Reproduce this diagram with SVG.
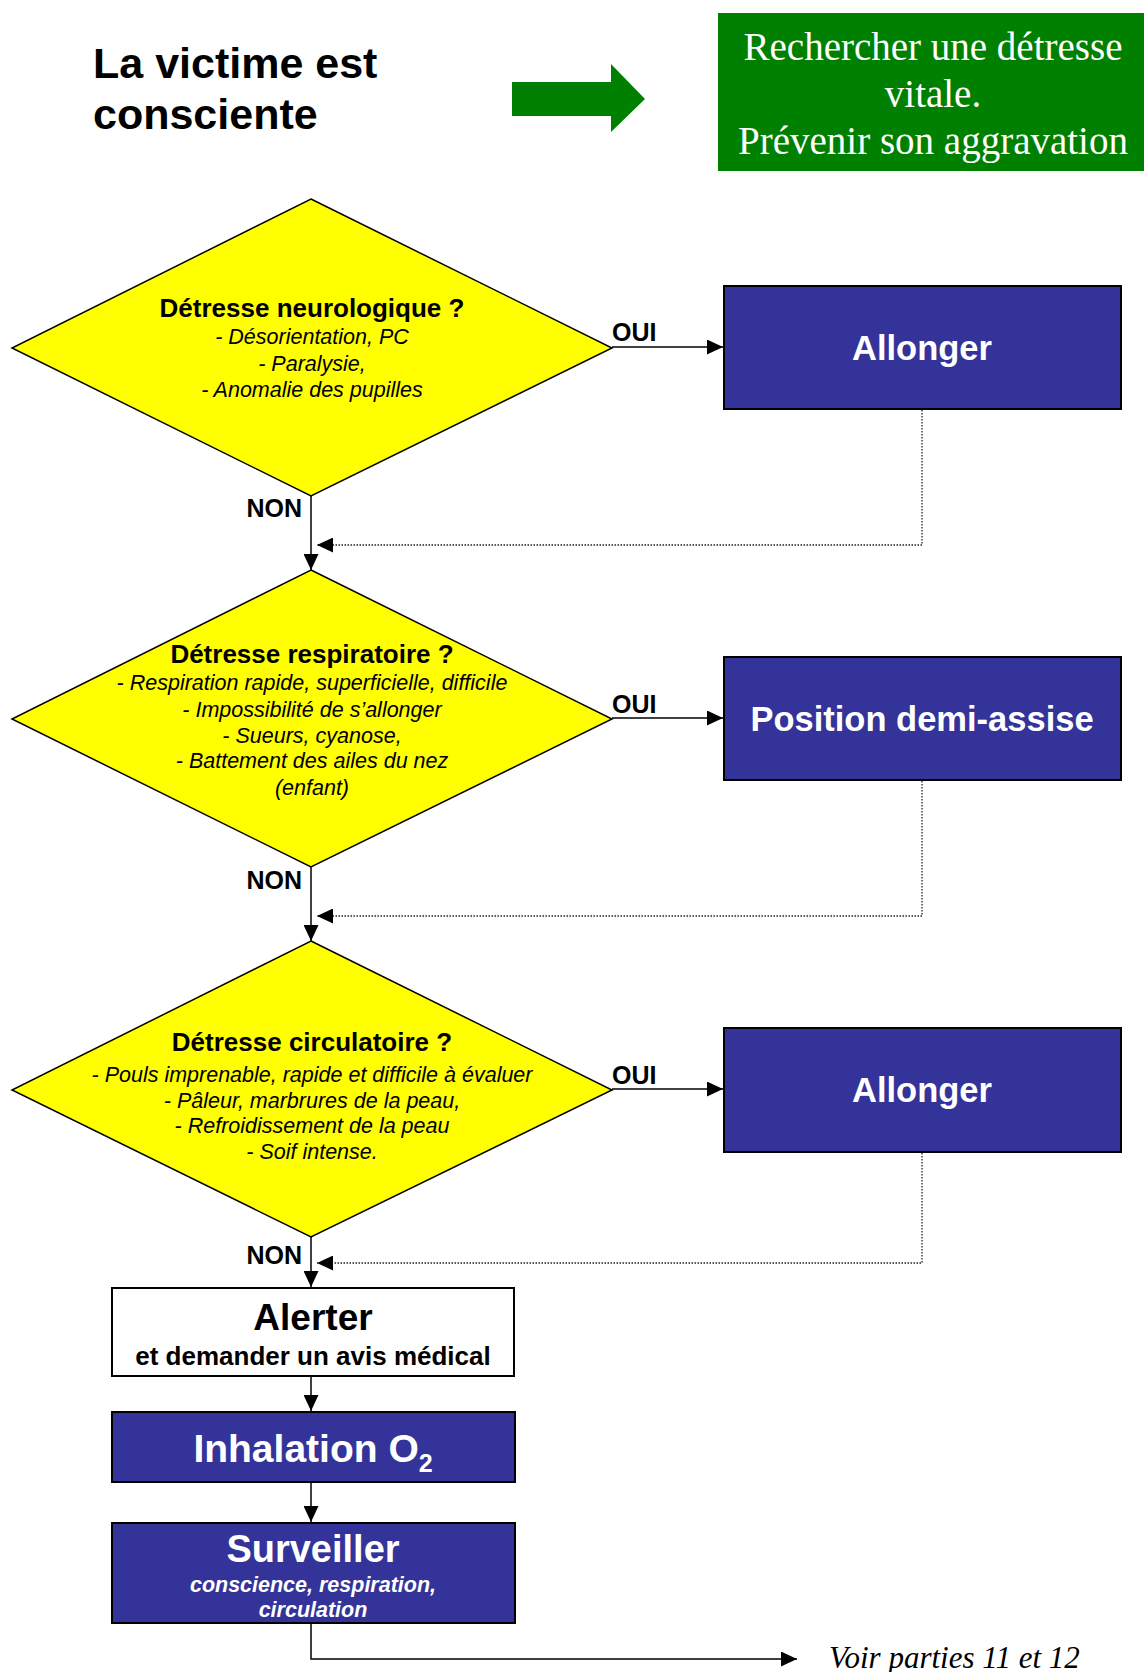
<svg xmlns="http://www.w3.org/2000/svg" width="1144" height="1672" viewBox="0 0 1144 1672">
<style>
.sans{font-family:"Liberation Sans",Arial,sans-serif}
.b{font-weight:bold}
.i{font-style:italic}
.dia{fill:#FFFF00;stroke:#000;stroke-width:1.5}
.blue{fill:#333399;stroke:#000;stroke-width:2}
.wt{fill:#fff}
.bk{fill:#000}
.line{stroke:#000;stroke-width:1.5;fill:none}
.dot{stroke:#222;stroke-width:1.3;fill:none;stroke-dasharray:1.5 1.5}
.dtitle{font-size:26px}
.dline{font-size:21.5px}
.lab{font-size:25px}
.serif{font-family:"Liberation Serif","Times New Roman",serif}
</style>
<defs>
<marker id="ah" viewBox="0 0 10 10" refX="10" refY="5" markerUnits="userSpaceOnUse" markerWidth="16" markerHeight="15" orient="auto" preserveAspectRatio="none">
<path d="M0,0 L10,5 L0,10 z" fill="#000"/>
</marker>
</defs>

<g id="title">
<text class="sans b bk" x="93" y="78" font-size="43">La victime est</text>
<text class="sans b bk" x="93" y="129" font-size="43">consciente</text>
</g>

<g id="green-arrow">
<polygon points="512,82 611,82 611,64 645,99 611,132 611,116 512,116" fill="#008000"/>
</g>

<g id="goal">
<rect x="718" y="13" width="426" height="158" fill="#008000"/>
<text class="serif" x="933" y="60" font-size="39" fill="#fff" text-anchor="middle">Rechercher une détresse</text>
<text class="serif" x="933" y="107" font-size="39" fill="#fff" text-anchor="middle">vitale.</text>
<text class="serif" x="933" y="154" font-size="39" fill="#fff" text-anchor="middle">Prévenir son aggravation</text>
</g>

<g id="connectors">
<line class="line" x1="612" y1="347" x2="723" y2="347" marker-end="url(#ah)"/>
<line class="line" x1="612" y1="718" x2="723" y2="718" marker-end="url(#ah)"/>
<line class="line" x1="612" y1="1089" x2="723" y2="1089" marker-end="url(#ah)"/>
<line class="line" x1="311" y1="496" x2="311" y2="570" marker-end="url(#ah)"/>
<line class="line" x1="311" y1="867" x2="311" y2="941" marker-end="url(#ah)"/>
<line class="line" x1="311" y1="1237" x2="311" y2="1287" marker-end="url(#ah)"/>
<line class="line" x1="311" y1="1376" x2="311" y2="1411" marker-end="url(#ah)"/>
<line class="line" x1="311" y1="1482" x2="311" y2="1522" marker-end="url(#ah)"/>
<polyline class="line" points="311,1623 311,1659 797,1659" marker-end="url(#ah)"/>
<polyline class="dot" points="922,410 922,545 317,545" marker-end="url(#ah)"/>
<polyline class="dot" points="922,781 922,916 317,916" marker-end="url(#ah)"/>
<polyline class="dot" points="922,1153 922,1263 317,1263" marker-end="url(#ah)"/>
<text class="sans b lab bk" x="612" y="341">OUI</text>
<text class="sans b lab bk" x="612" y="713">OUI</text>
<text class="sans b lab bk" x="612" y="1084">OUI</text>
<text class="sans b lab bk" x="302" y="517" text-anchor="end">NON</text>
<text class="sans b lab bk" x="302" y="889" text-anchor="end">NON</text>
<text class="sans b lab bk" x="302" y="1264" text-anchor="end">NON</text>
</g>

<g id="d-neuro">
<polygon class="dia" points="311,199 612,348 311,496 12,348"/>
<text class="sans b dtitle bk" x="312" y="317" text-anchor="middle">Détresse neurologique ?</text>
<text class="sans i dline bk" x="312" y="344" text-anchor="middle">- Désorientation, PC</text>
<text class="sans i dline bk" x="312" y="371" text-anchor="middle">- Paralysie,</text>
<text class="sans i dline bk" x="312" y="397" text-anchor="middle">- Anomalie des pupilles</text>
</g>

<g id="d-resp">
<polygon class="dia" points="311,570 612,719 311,867 12,719"/>
<text class="sans b dtitle bk" x="312" y="663" text-anchor="middle">Détresse respiratoire ?</text>
<text class="sans i dline bk" x="312" y="690" text-anchor="middle">- Respiration rapide, superficielle, difficile</text>
<text class="sans i dline bk" x="312" y="717" text-anchor="middle">- Impossibilité de s’allonger</text>
<text class="sans i dline bk" x="312" y="743" text-anchor="middle">- Sueurs, cyanose,</text>
<text class="sans i dline bk" x="312" y="768" text-anchor="middle">- Battement des ailes du nez</text>
<text class="sans i dline bk" x="312" y="795" text-anchor="middle">(enfant)</text>
</g>

<g id="d-circ">
<polygon class="dia" points="311,941 612,1090 311,1237 12,1090"/>
<text class="sans b dtitle bk" x="312" y="1051" text-anchor="middle">Détresse circulatoire ?</text>
<text class="sans i dline bk" x="312" y="1082" text-anchor="middle">- Pouls imprenable, rapide et difficile à évaluer</text>
<text class="sans i dline bk" x="312" y="1108" text-anchor="middle">- Pâleur, marbrures de la peau,</text>
<text class="sans i dline bk" x="312" y="1133" text-anchor="middle">- Refroidissement de la peau</text>
<text class="sans i dline bk" x="312" y="1159" text-anchor="middle">- Soif intense.</text>
</g>

<g id="b-allonger1">
<rect class="blue" x="724" y="286" width="397" height="123"/>
<text class="sans b wt" x="922" y="360" font-size="34.5" text-anchor="middle">Allonger</text>
</g>

<g id="b-position">
<rect class="blue" x="724" y="657" width="397" height="123"/>
<text class="sans b wt" x="922" y="731" font-size="34.5" text-anchor="middle">Position demi-assise</text>
</g>

<g id="b-allonger2">
<rect class="blue" x="724" y="1028" width="397" height="124"/>
<text class="sans b wt" x="922" y="1102" font-size="34.5" text-anchor="middle">Allonger</text>
</g>

<g id="b-alerter">
<rect x="112" y="1288" width="402" height="88" fill="#fff" stroke="#000" stroke-width="2"/>
<text class="sans b bk" x="313" y="1330" font-size="37" text-anchor="middle">Alerter</text>
<text class="sans b bk" x="313" y="1365" font-size="26" text-anchor="middle">et demander un avis médical</text>
</g>

<g id="b-inhalation">
<rect class="blue" x="112" y="1412" width="403" height="70"/>
<text class="sans b wt" x="313" y="1462" font-size="39" text-anchor="middle">Inhalation O<tspan font-size="25" dy="10">2</tspan></text>
</g>

<g id="b-surveiller">
<rect class="blue" x="112" y="1523" width="403" height="100"/>
<text class="sans b wt" x="313" y="1562" font-size="38" text-anchor="middle">Surveiller</text>
<text class="sans b i wt" x="313" y="1592" font-size="21.5" text-anchor="middle">conscience, respiration,</text>
<text class="sans b i wt" x="313" y="1617" font-size="21.5" text-anchor="middle">circulation</text>
</g>

<g id="voir">
<text class="serif" x="829" y="1668" font-style="italic" font-size="31" fill="#000">Voir parties 11 et 12</text>
</g>
</svg>
